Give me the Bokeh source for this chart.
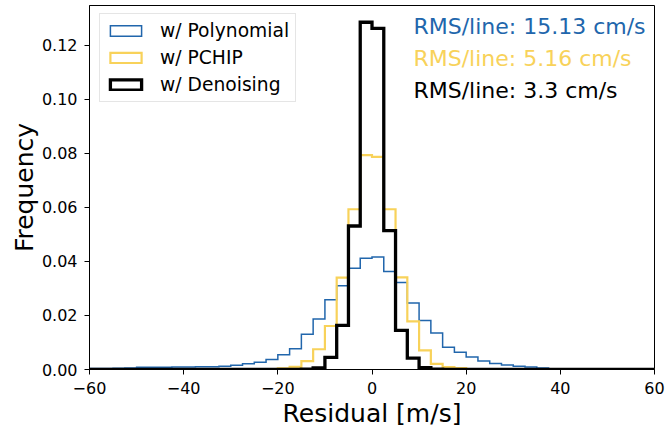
import numpy as np
from bokeh.plotting import figure
from bokeh.models import (Legend, LegendItem, FixedTicker,
                          PrintfTickFormatter, Label)
from bokeh.embed import file_html
from bokeh.resources import INLINE

# ---------------- data ----------------
bin_edges_start = -60.0
bin_width = 2.5
n_bins = 48

polynomial = [0.0004, 0.0004, 0.0005, 0.0006, 0.0008, 0.0008, 0.0008, 0.0009,
              0.0009, 0.0010, 0.0010, 0.0012, 0.0016, 0.0021, 0.0027, 0.0037,
              0.0055, 0.0077, 0.0130, 0.0187, 0.0258, 0.0310, 0.0375, 0.0412,
              0.0416, 0.0363, 0.0322, 0.0246, 0.0181, 0.0135, 0.0082, 0.0064,
              0.0046, 0.0031, 0.0022, 0.0017, 0.0012, 0.0009, 0.0006, 0.0002,
              0.0001, 0.0001, 0.0, 0.0, 0.0, 0.0, 0.0, 0.0]
pchip = [0.0, 0.0, 0.0, 0.0, 0.0, 0.0, 0.0, 0.0,
         0.0, 0.0, 0.0, 0.0, 0.0, 0.0, 0.0, 0.0,
         0.0004, 0.0010, 0.0031, 0.0075, 0.0161, 0.0340, 0.0593, 0.0793,
         0.0787, 0.0593, 0.0341, 0.0178, 0.0071, 0.0021, 0.0009, 0.0005,
         0.0001, 0.0, 0.0, 0.0, 0.0, 0.0, 0.0, 0.0,
         0.0, 0.0, 0.0, 0.0, 0.0, 0.0, 0.0, 0.0]
denoising = [0.0, 0.0, 0.0, 0.0, 0.0, 0.0, 0.0, 0.0,
             0.0, 0.0, 0.0, 0.0, 0.0, 0.0, 0.0, 0.0,
             0.0, 0.0, 0.0001, 0.0006, 0.0045, 0.0163, 0.0531, 0.1285,
             0.1262, 0.0514, 0.0145, 0.0042, 0.0007, 0.0001, 0.0, 0.0,
             0.0, 0.0, 0.0, 0.0, 0.0, 0.0, 0.0, 0.0,
             0.0, 0.0, 0.0, 0.0, 0.0, 0.0, 0.0, 0.0]

series_labels = ["w/ Polynomial", "w/ PCHIP", "w/ Denoising"]
rms_labels = ["RMS/line: 15.13 cm/s", "RMS/line: 5.16 cm/s", "RMS/line: 3.3 cm/s"]
x_ticks = [-60, -40, -20, 0, 20, 40, 60]
x_tick_labels = ["\u221260", "\u221240", "\u221220", "0", "20", "40", "60"]
y_ticks = [0.00, 0.02, 0.04, 0.06, 0.08, 0.10, 0.12]

# ---------------- styles ----------------
colors = ["#2166ac", "#f8d25a", "#000000"]
widths = [1.5, 2.2, 3.3]
FONT = "DejaVu Sans"

edges = bin_edges_start + bin_width * np.arange(n_bins + 1)


def step_outline(vals):
    xs = [edges[0]]
    ys = [0.0]
    for i, v in enumerate(vals):
        xs += [edges[i], edges[i + 1]]
        ys += [v, v]
    xs.append(edges[-1])
    ys.append(0.0)
    return xs, ys


p = figure(width=665, height=430, output_backend="svg", toolbar_location=None,
           x_range=(-60, 60), y_range=(0, 0.1347),
           min_border_left=89, min_border_right=11, min_border_top=5,
           min_border_bottom=60)
p.background_fill_color = "white"
p.border_fill_color = "white"
p.outline_line_color = "black"
p.outline_line_width = 1
p.xgrid.visible = False
p.ygrid.visible = False

legend_items = []
for vals, c, w, lab in zip([polynomial, pchip, denoising], colors, widths, series_labels):
    xs, ys = step_outline(vals)
    p.line(xs, ys, line_color=c, line_width=w, line_join="miter")
    # legend-only proxy (NaN geometry, never visible in the plot)
    proxy = p.quad(left=[np.nan], right=[np.nan], top=[np.nan], bottom=[np.nan],
                   fill_alpha=0, line_color=c, line_width=w, line_join="miter")
    legend_items.append(LegendItem(label=lab, renderers=[proxy]))

legend = Legend(items=legend_items, location=(10, 267))
legend.label_text_font = FONT
legend.label_text_font_size = "18.7px"
legend.label_text_color = "black"
legend.glyph_width = 39
legend.glyph_height = 13
legend.label_height = 20
legend.label_standoff = 15
legend.spacing = 6
legend.padding = 6
legend.margin = 0
legend.border_line_color = "#cccccc"
legend.border_line_width = 1
legend.background_fill_color = "white"
legend.background_fill_alpha = 0.8
p.add_layout(legend, "center")

# RMS annotations
rms_y = [0.1269, 0.1151, 0.1033]
for txt, c, yy in zip(rms_labels, colors, rms_y):
    p.add_layout(Label(x=8.8, y=yy, text=txt, text_color=c, text_font=FONT,
                       text_font_size="22px", text_baseline="middle",
                       text_align="left"))

# axes
for ax in (p.xaxis[0], p.yaxis[0]):
    ax.axis_line_color = "black"
    ax.major_tick_line_color = "black"
    ax.major_tick_out = 5
    ax.major_tick_in = 0
    ax.minor_tick_line_color = None
    ax.major_label_text_font = FONT
    ax.major_label_text_font_size = "16px"
    ax.major_label_text_color = "black"
    ax.axis_label_text_font = FONT
    ax.axis_label_text_font_size = "25px"
    ax.axis_label_text_font_style = "normal"
    ax.axis_label_text_color = "black"

p.xaxis.ticker = FixedTicker(ticks=x_ticks)
p.xaxis.major_label_overrides = {t: l for t, l in zip(x_ticks, x_tick_labels)}
p.xaxis.axis_label = "Residual [m/s]"
p.xaxis.major_label_standoff = 7
p.xaxis.axis_label_standoff = 2

p.yaxis.ticker = FixedTicker(ticks=y_ticks)
p.yaxis.formatter = PrintfTickFormatter(format="%.2f")
p.yaxis.axis_label = "Frequency"
p.yaxis.major_label_standoff = 7
p.yaxis.axis_label_standoff = 0

open("out.html", "w").write(file_html(p, INLINE))
